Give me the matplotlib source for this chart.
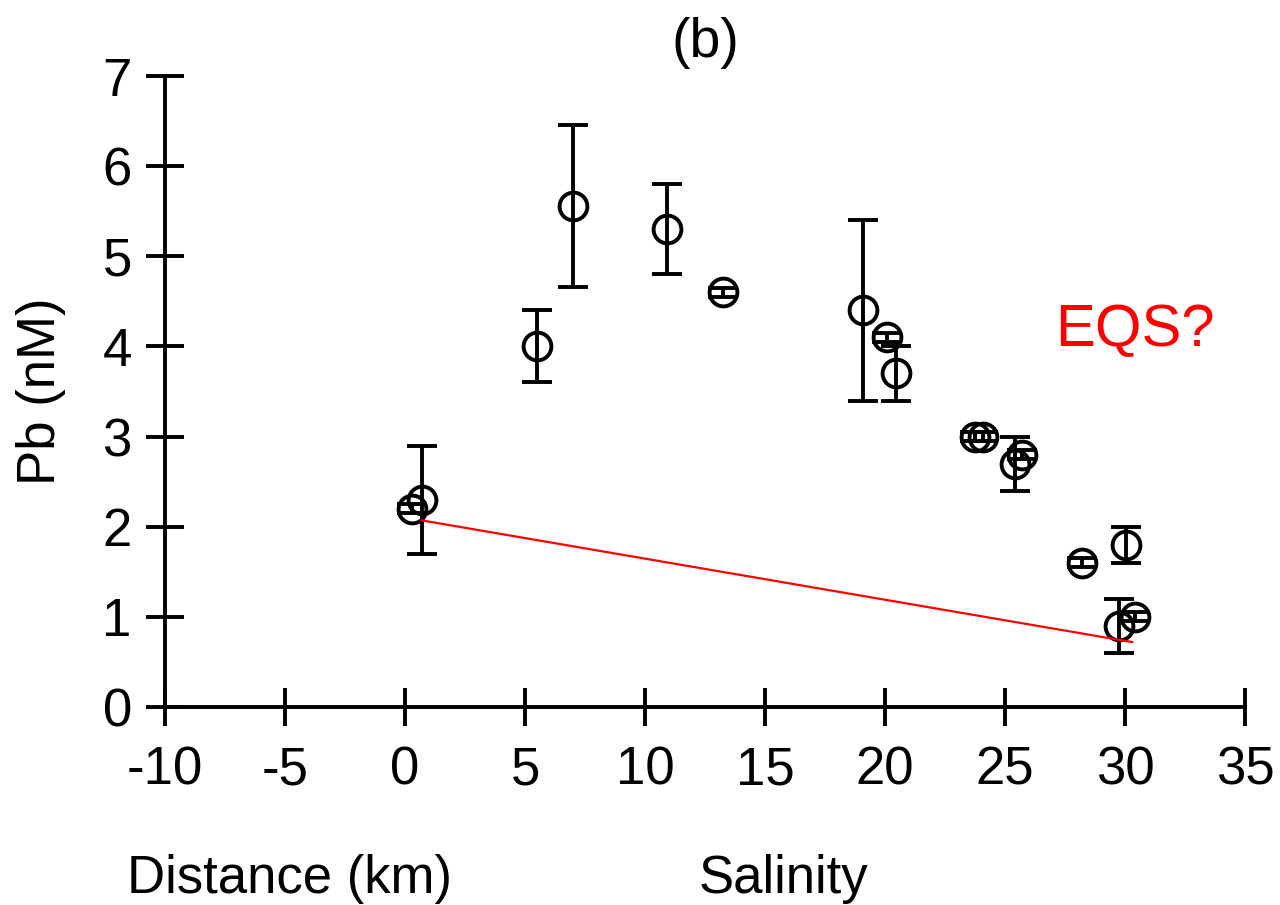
"""Pb concentration against salinity, panel (b)."""

import matplotlib
matplotlib.use("Agg")
from matplotlib import pyplot as plt

plt.rcParams["font.family"] = ["Liberation Sans", "DejaVu Sans"]
plt.rcParams["axes.unicode_minus"] = False

# Pb (nM) samples against salinity, with error bars
salinity = [0.3, 0.7, 5.5, 7.0, 10.9, 13.25, 19.1, 20.1, 20.45,
            23.75, 24.1, 25.4, 25.7, 28.2, 29.75, 30.05, 30.4]
pb = [2.2, 2.3, 4.0, 5.56, 5.3, 4.6, 4.4, 4.1, 3.7,
      3.0, 3.0, 2.7, 2.8, 1.6, 0.9, 1.8, 1.0]
pb_err = [0.05, 0.6, 0.4, 0.9, 0.5, 0.05, 1.0, 0.05, 0.3,
          0.05, 0.05, 0.3, 0.05, 0.05, 0.3, 0.2, 0.05]

# red dilution line end points
line_x = [0.7, 30.3]
line_y = [2.07, 0.72]

x_ticks = list(range(-10, 40, 5))
y_ticks = list(range(0, 8))

LW = 2.8

fig = plt.figure(figsize=(12.8, 9.05), dpi=100)
ax = fig.add_axes([0.129, 0.2188, 0.8437, 0.6972])

ax.errorbar(
    salinity, pb, yerr=pb_err, fmt="o", ms=20, mfc="none", mec="black", mew=LW,
    ecolor="black", elinewidth=LW, capsize=10.5, capthick=LW, zorder=3,
)
ax.plot(line_x, line_y, color="red", lw=1.6, zorder=4)

ax.text(30.4, 4.18, "EQS?", color="red", fontsize=43, ha="center", va="center")

ax.set_xlim(-10, 35)
ax.set_ylim(0, 7)
ax.set_xticks(x_ticks)
ax.set_yticks(y_ticks)
ax.tick_params(direction="inout", length=28, width=LW, labelsize=38, pad=10)
ax.tick_params(axis="x", pad=14)
for side in ("top", "right"):
    ax.spines[side].set_visible(False)
for side in ("left", "bottom"):
    ax.spines[side].set_linewidth(LW)

ax.set_ylabel("Pb (nM)", fontsize=38, labelpad=26)
ax.set_title("(b)", fontsize=40, pad=14,
             family=["Liberation Sans Narrow", "Liberation Sans", "DejaVu Sans"])

fig.text(0.226, 0.013, "Distance (km)", fontsize=38, ha="center", va="baseline")
fig.text(0.612, 0.013, "Salinity", fontsize=38, ha="center", va="baseline")

fig.savefig("out.png", dpi=100)
